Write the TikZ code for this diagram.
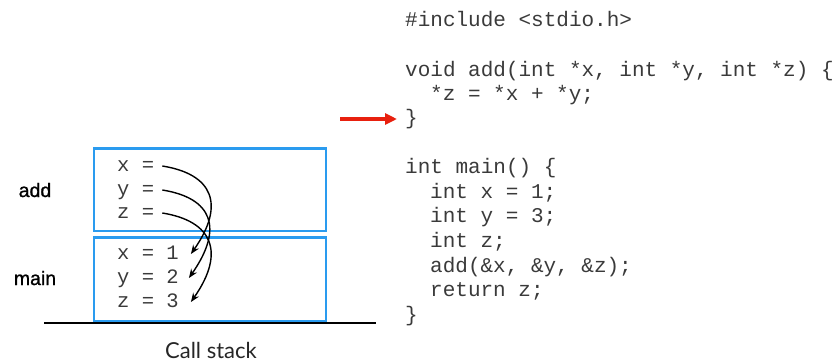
\documentclass[tikz,border=0pt]{standalone}
\usepackage{fontspec}
\usetikzlibrary{arrows.meta}
\newfontfamily\codefont{Liberation Mono}
\newfontfamily\labelfont[FakeBold=1]{Liberation Sans}
\newfontfamily\captionfont{Lato}
\definecolor{frameblue}{HTML}{2A9BEF}
\definecolor{pointred}{HTML}{E8200E}
\definecolor{codegray}{HTML}{3A3A3A}
\tikzset{
  code/.style={anchor=base west, inner sep=0pt, text=codegray,
    font=\codefont\fontsize{21}{25}\selectfont},
  var/.style={anchor=base west, inner xsep=8pt, inner ysep=0pt,
    text height=14pt, text depth=4pt, text=codegray,
    font=\codefont\fontsize{20.5}{24}\selectfont},
  stackframe/.style={draw=frameblue, line width=2.5pt, minimum width=232},
  framelabel/.style={anchor=base, font=\labelfont\fontsize{19.5}{22}\selectfont},
  link/.style={-{Stealth[length=9pt,width=7pt]}, line width=1.4pt},
  pointer/.style={-{Triangle[length=12pt,width=11pt]}, line width=3.3pt, draw=pointred},
}
\begin{document}
\begin{tikzpicture}[x=1pt, y=1pt]
    \useasboundingbox (0,0) rectangle (840,-362);
    % call stack
    \node[stackframe, minimum height=82.5] (addframe) at (210,-189.5) {};
    \node[stackframe, minimum height=83.5] (mainframe) at (210,-279) {};
    \draw[line width=2pt] (44,-323) -- (376,-323);
    \node[framelabel] (addlabel) at (35,-197) {add};
    \node[framelabel] (mainlabel) at (35,-285) {main};
    \node[anchor=base, text=black!85, font=\captionfont\fontsize{22}{25}\selectfont]
        (caption) at (211,-358) {Call stack};
    % variables
    \node[var] (ax) at (109,-171) {x =};
    \node[var] (ay) at (109,-195) {y =};
    \node[var] (az) at (109,-218) {z =};
    \node[var] (mx) at (109,-259) {x = 1};
    \node[var] (my) at (109,-283) {y = 2};
    \node[var] (mz) at (109,-307) {z = 3};
    \draw[link] (ax.east) .. controls +(50,-8) and +(35,50) .. ([xshift=4]mx.east);
    \draw[link] (ay.east) .. controls +(50,-8) and +(35,50) .. ([xshift=2]my.east);
    \draw[link] (az.east) .. controls +(50,-8) and +(35,50) .. ([xshift=4]mz.east);
    % source code
    \node[code] (c1) at (405,-26) {\#include <stdio.h>};
    \node[code] (c2) at (405,-76) {void add(int *x, int *y, int *z) \{};
    \node[code] (c3) at (430,-100) {*z = *x + *y;};
    \node[code] (c4) at (405,-124) {\}};
    \node[code] (c5) at (405,-173) {int main() \{};
    \node[code] (c6) at (430,-198) {int x = 1;};
    \node[code] (c7) at (430,-222) {int y = 3;};
    \node[code] (c8) at (430,-247) {int z;};
    \node[code] (c9) at (430,-272) {add(\&x, \&y, \&z);};
    \node[code] (c10) at (430,-296) {return z;};
    \node[code] (c11) at (405,-321) {\}};
    % current line
    \coordinate (ptrtail) at (340,-119);
    \draw[pointer, shorten >=8pt] (ptrtail) -- (ptrtail -| c4.west);
\end{tikzpicture}
\end{document}
